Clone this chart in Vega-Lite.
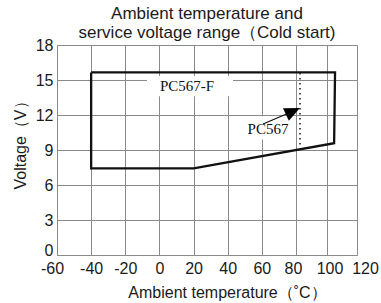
{
  "$schema": "https://vega.github.io/schema/vega-lite/v6.json",
  "width": 300,
  "height": 210,
  "autosize": {"type": "none"},
  "padding": {"left": 57, "top": 45, "right": 24, "bottom": 48},
  "background": "white",
  "title": {
    "text": ["Ambient temperature and", "service voltage range（Cold start)"],
    "font": "Liberation Sans",
    "fontSize": 17,
    "fontWeight": "normal",
    "lineHeight": 19,
    "color": "#1a1a1a",
    "anchor": "middle",
    "frame": "group",
    "offset": -5
  },
  "config": {
    "view": {"stroke": null},
    "axis": {
      "grid": true,
      "gridColor": "#8a8a8a",
      "gridWidth": 1,
      "domainColor": "#8a8a8a",
      "domainWidth": 1,
      "ticks": false,
      "labelFont": "Liberation Sans",
      "labelFontSize": 16,
      "labelColor": "#1a1a1a",
      "labelFlush": false,
      "labelOverlap": false,
      "titleFont": "Liberation Sans",
      "titleFontSize": 16,
      "titleFontWeight": "normal",
      "titleColor": "#1a1a1a"
    }
  },
  "encoding": {
    "x": {
      "field": "t",
      "type": "quantitative",
      "scale": {"domain": [-60, 80, 120], "range": [0, 239, 300], "nice": false, "zero": false},
      "axis": {
        "values": [-60, -40, -20, 0, 20, 40, 60, 80, 100, 120],
        "title": "Ambient temperature（˚C）",
        "labelPadding": 5,
        "labelExpr": "'' + datum.value",
        "labelOffset": {"condition": [{"test": "datum.value === 120", "value": 8}, {"test": "datum.value === 100", "value": 3}, {"test": "datum.value === 80", "value": -3}, {"test": "datum.value === -60", "value": -5}], "value": 0},
        "titleX": 170,
        "titleY": 42,
        "titleBaseline": "alphabetic"
      }
    },
    "y": {
      "field": "v",
      "type": "quantitative",
      "scale": {"domain": [0, 18], "nice": false, "zero": false},
      "axis": {
        "values": [0, 3, 6, 9, 12, 15, 18],
        "title": "Voltage（V）",
        "labelPadding": 4,
        "labelBaseline": {"condition": {"test": "datum.value === 0", "value": "alphabetic"}, "value": "middle"},
        "titleX": -32,
        "titleY": 96,
        "titleBaseline": "alphabetic"
      }
    }
  },
  "layer": [
    {
      "data": {"values": [
        {"t": -7.3, "t2": 43.1, "v": 15.35, "v2": 13.6},
        {"t": 45, "t2": 79, "v": 11.9, "v2": 9.9}
      ]},
      "mark": {"type": "rect", "fill": "white", "stroke": null},
      "encoding": {
        "x2": {"field": "t2"},
        "y2": {"field": "v2"}
      }
    },
    {
      "data": {"values": [
        {"o": 1, "t": -40, "v": 15.65},
        {"o": 2, "t": 105.6, "v": 15.65},
        {"o": 3, "t": 105, "v": 9.58},
        {"o": 4, "t": 20, "v": 7.43},
        {"o": 5, "t": -40, "v": 7.43},
        {"o": 6, "t": -40, "v": 15.65}
      ]},
      "mark": {"type": "line", "color": "#111111", "strokeWidth": 2.3, "strokeJoin": "miter"},
      "encoding": {"order": {"field": "o", "type": "quantitative"}}
    },
    {
      "data": {"values": [{"t": 82.6, "v": 15.6, "v2": 9.15}]},
      "mark": {"type": "rule", "color": "#222222", "strokeWidth": 1.6, "strokeDash": [1.5, 3.5]},
      "encoding": {"y2": {"field": "v2"}}
    },
    {
      "data": {"values": [
        {"o": 1, "t": 60.7, "v": 11.23},
        {"o": 2, "t": 78.2, "v": 12.32}
      ]},
      "mark": {"type": "line", "color": "#111111", "strokeWidth": 1.2},
      "encoding": {"order": {"field": "o", "type": "quantitative"}}
    },
    {
      "data": {"values": [{"t": 78.2, "v": 12.32}]},
      "mark": {"type": "point", "shape": "M1,0L-1,-0.9L-1,0.9Z", "filled": true, "color": "#000000", "opacity": 1, "size": 240, "angle": 335, "strokeWidth": 0}
    },
    {
      "data": {"values": [
        {"t": 16.2, "v": 14.08, "label": "PC567-F"},
        {"t": 63.6, "v": 10.35, "label": "PC567"}
      ]},
      "mark": {"type": "text", "font": "Liberation Serif", "fontSize": 15, "baseline": "alphabetic", "align": "center", "color": "#111111"},
      "encoding": {"text": {"field": "label"}}
    }
  ]
}
